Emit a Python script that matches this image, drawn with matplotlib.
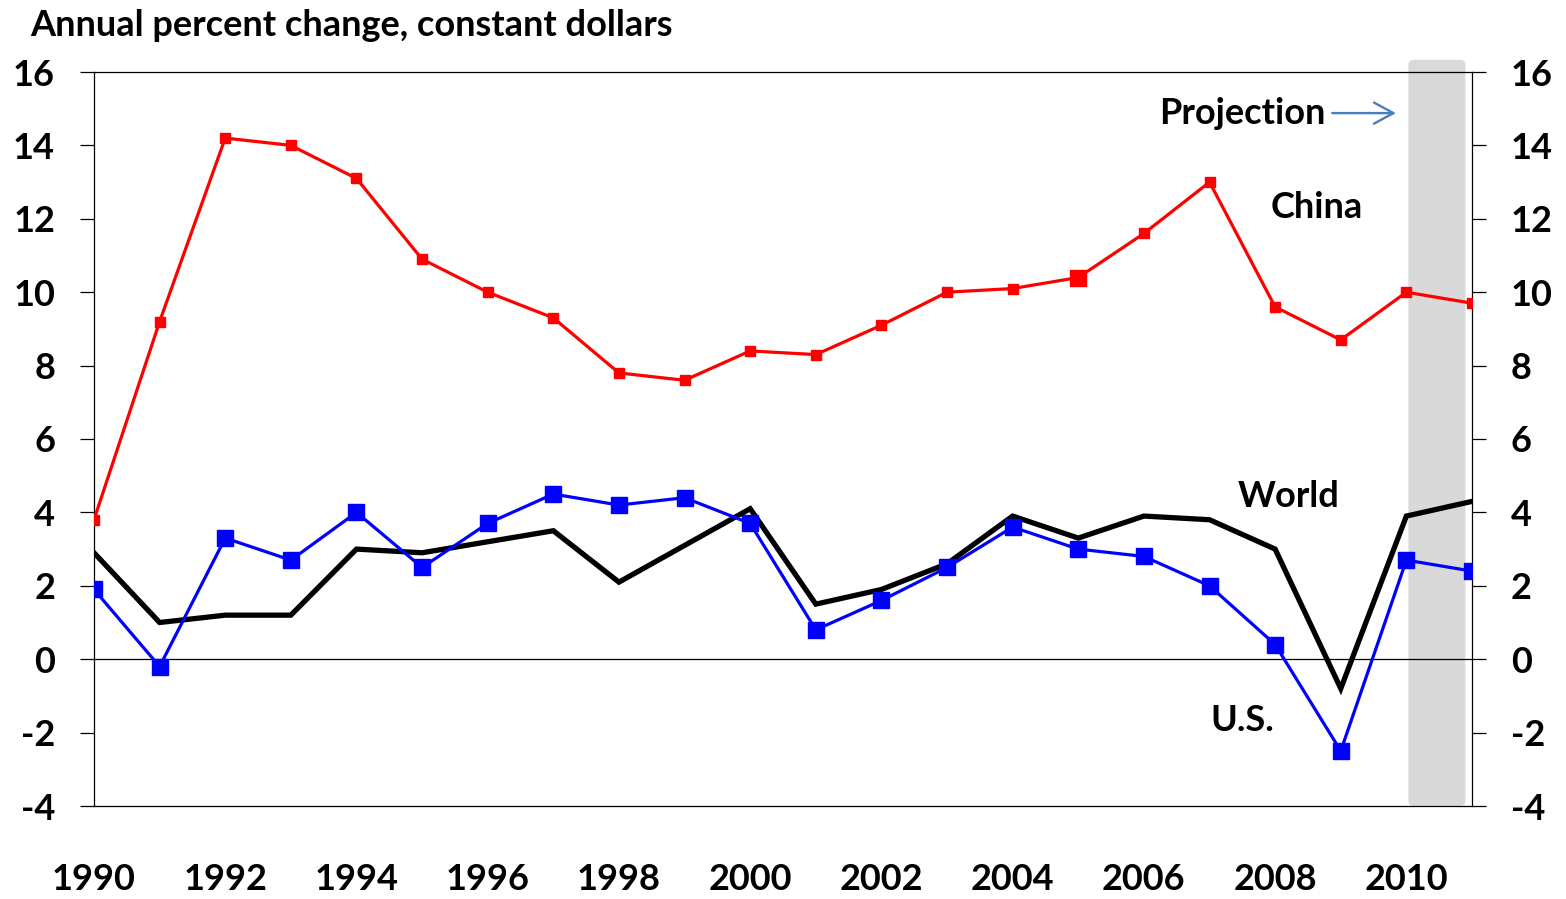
import matplotlib.pyplot as plt
from matplotlib.patches import FancyBboxPatch

FONT = ["Lato", "DejaVu Sans"]
plt.rcParams["font.family"] = FONT
plt.rcParams["axes.unicode_minus"] = False

years = list(range(1990, 2012))
china = [3.8, 9.2, 14.2, 14.0, 13.1, 10.9, 10.0, 9.3, 7.8, 7.6, 8.4,
         8.3, 9.1, 10.0, 10.1, 10.4, 11.6, 13.0, 9.6, 8.7, 10.0, 9.7]
us = [1.9, -0.2, 3.3, 2.7, 4.0, 2.5, 3.7, 4.5, 4.2, 4.4, 3.7,
      0.8, 1.6, 2.5, 3.6, 3.0, 2.8, 2.0, 0.4, -2.5, 2.7, 2.4]
world = [2.9, 1.0, 1.2, 1.2, 3.0, 2.9, 3.2, 3.5, 2.1, 3.1, 4.1,
         1.5, 1.9, 2.6, 3.9, 3.3, 3.9, 3.8, 3.0, -0.8, 3.9, 4.3]
yticks = list(range(-4, 18, 2))
xticks = list(range(1990, 2012, 2))
proj_start, proj_end = 2010.03, 2010.9
big_marker_idx = [15]  # one china point drawn with a larger marker in the source

W, H = 1566, 899
fig = plt.figure(figsize=(W / 100, H / 100), dpi=100)
ax = fig.add_axes([94 / W, (H - 806) / H, (1472 - 94) / W, (806 - 72) / H])

# projection band (pokes a little above the plot area)
band = FancyBboxPatch(
    (proj_start, -4), proj_end - proj_start, 20.33,
    boxstyle="round,pad=0,rounding_size=0.08", mutation_aspect=1.79,
    facecolor="#d9d9d9", edgecolor="none", zorder=0, clip_on=False,
)
ax.add_patch(band)

ax.axhline(0, color="black", lw=0.9, zorder=1)
ax.plot(years, world, color="black", lw=3.8, zorder=2, solid_joinstyle="miter")
ax.plot(years, us, color="#0000ff", lw=2.3, marker="s", ms=11, zorder=3)
ax.plot(years, china, color="#ff0000", lw=2.3, marker="s", ms=7.5, zorder=4)
ax.plot([years[i] for i in big_marker_idx], [china[i] for i in big_marker_idx],
        ls="none", marker="s", ms=11.5, color="#ff0000", zorder=4)

ax.set_xlim(1990, 2011)
ax.set_ylim(-4, 16)
ax.set_yticks(yticks)
ax.set_xticks(xticks)

for side in ["left", "right", "top", "bottom"]:
    ax.spines[side].set_linewidth(0.9)

ax.tick_params(axis="y", direction="out", length=10, width=0.9,
               left=True, right=True, labelleft=True, labelright=True,
               labelsize=26, pad=18)
ax.tick_params(axis="x", length=0, labelsize=26, pad=41)
for lab in ax.get_xticklabels() + ax.get_yticklabels():
    lab.set_fontweight("bold")
for t in ax.yaxis.get_major_ticks():
    t.label2.set_fontweight("bold")

txt = dict(fontsize=26, fontweight="bold", color="black")
ax.text(2008.64, 12.3, "China", ha="center", va="center", **txt)
ax.text(2008.2, 4.42, "World", ha="center", va="center", **txt)
ax.text(2007.5, -1.68, "U.S.", ha="center", va="center", **txt)
ax.text(2008.76, 14.88, "Projection", ha="right", va="center", **txt)
ax.annotate("", xy=(2009.84, 14.88), xytext=(2008.87, 14.88),
            arrowprops=dict(arrowstyle="->,head_length=0.7,head_width=0.38",
                            mutation_scale=20, color="#4a7ebb", lw=1.7,
                            shrinkA=0, shrinkB=0))

fig.text(30 / W, 1 - 26 / H, "Annual percent change, constant dollars",
         ha="left", va="center", fontsize=26, fontweight="bold")

fig.savefig("out.png", dpi=100)
